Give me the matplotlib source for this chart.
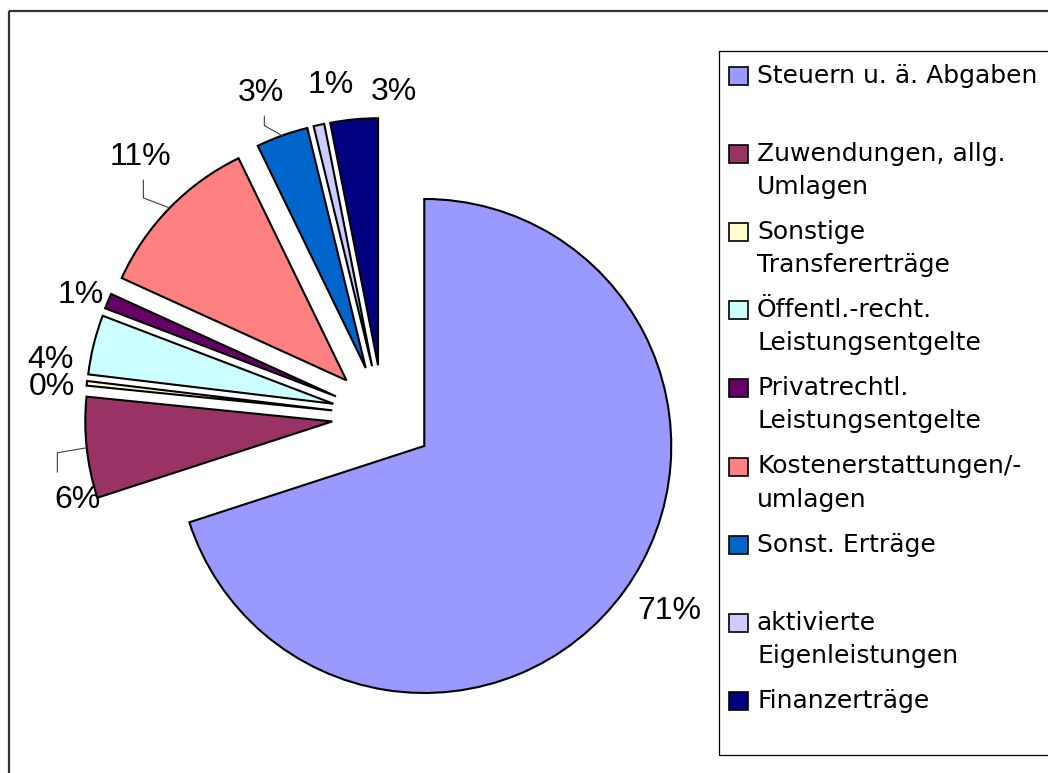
import matplotlib.pyplot as plt
from matplotlib.patches import Rectangle
import numpy as np

# data
categories = ["Steuern u. ä. Abgaben", "Zuwendungen, allg.\nUmlagen", "Sonstige\nTransfererträge",
              "Öffentl.-recht.\nLeistungsentgelte", "Privatrechtl.\nLeistungsentgelte",
              "Kostenerstattungen/-\numlagen", "Sonst. Erträge", "aktivierte\nEigenleistungen",
              "Finanzerträge"]
shares = [70.0, 6.6, 0.3, 3.9, 1.0, 11.0, 3.4, 0.7, 3.1]
pct_labels = ["71%", "6%", "0%", "4%", "1%", "11%", "3%", "1%", "3%"]
colors = ["#9999FF", "#993366", "#FFFFCC", "#CCFFFF", "#660066",
          "#FF8080", "#0066CC", "#CCCCFF", "#000080"]

W, H = 1048, 773
fig = plt.figure(figsize=(W / 100, H / 100), dpi=100)
ax = fig.add_axes([0, 0, 1, 1])

# pixel coordinates, y pointing down -> start at top, go clockwise
R = 247
wedges, _ = ax.pie(shares, colors=colors, startangle=-90, counterclock=True,
                   radius=R, center=(383, 416), explode=[51] * len(shares),
                   wedgeprops=dict(edgecolor='black', linewidth=1.5), frame=True)
ax.set_xlim(0, W)
ax.set_ylim(H, 0)
ax.set_aspect('equal')
ax.axis('off')

# percentage labels (Excel-like placement)
label_dist = [1.196, 1.08, 1.14, 1.16, 1.11, 1.23, 1.19, 1.15, 1.11]
label_turn = [-2, -11, -1.5, -5, -1, 3, -1, 4, 9]
leader = [False, True, False, False, False, True, True, False, False]
for w, txt, d, turn, lead in zip(wedges, pct_labels, label_dist, label_turn, leader):
    mid = np.deg2rad((w.theta1 + w.theta2) / 2)
    cx, cy = w.center
    a = mid + np.deg2rad(turn)
    lx, ly = cx + d * R * np.cos(a), cy + d * R * np.sin(a)
    ax.text(lx, ly, txt, ha='center', va='center', fontsize=23, family='Liberation Sans')
    if lead:
        px, py = cx + R * np.cos(mid), cy + R * np.sin(mid)
        if ly < py:
            xs, ys = [px, lx + 3, lx + 3], [py, py - 10, ly + 23]
        else:
            xs, ys = [px, lx - 20, lx - 20], [py, py + 5, ly - 28]
        ax.plot(xs, ys, color='#404040', lw=0.8)

# chart border (cut off at right/bottom)
ax.add_patch(Rectangle((9, 11), 1200, 900, fill=False, edgecolor='#333333', lw=1.6))

# legend
ax.add_patch(Rectangle((719, 51), 400, 704, fill=False, edgecolor='black', lw=0.9))
for i, (name, c) in enumerate(zip(categories, colors)):
    yc = 76 + 78.1 * i
    ax.add_patch(Rectangle((729, yc - 9), 19, 18, facecolor=c, edgecolor='black', lw=1.2))
    for k, line in enumerate(name.split("\n")):
        ax.text(757, yc + 7 + 33 * k, line, ha='left', va='baseline', fontsize=18,
                family='DejaVu Sans')

fig.savefig("out.png", dpi=100)
